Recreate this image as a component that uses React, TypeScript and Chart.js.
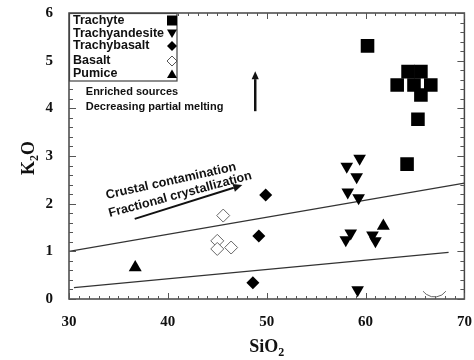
import React, { useEffect, useRef } from "react";
import { Chart, registerables } from "chart.js";

Chart.register(...registerables);

// SiO2 (wt%) vs K2O (wt%) by rock type
const trachyteSiO2 = [60.2, 64.3, 65.6, 63.2, 64.9, 66.6, 65.6, 65.3, 64.2];
const trachyteK2O = [5.31, 4.77, 4.77, 4.49, 4.49, 4.49, 4.28, 3.77, 2.83];

const trachyandesiteSiO2 = [59.4, 58.1, 59.1, 58.2, 59.3, 58.5, 58.0, 60.7, 61.0, 59.2];
const trachyandesiteK2O = [2.95, 2.78, 2.56, 2.24, 2.12, 1.38, 1.24, 1.34, 1.22, 0.19];

const trachybasaltSiO2 = [49.9, 49.2, 48.6];
const trachybasaltK2O = [2.18, 1.32, 0.34];

const basaltSiO2 = [45.6, 45.0, 45.0, 46.4];
const basaltK2O = [1.75, 1.22, 1.05, 1.08];

const pumiceSiO2 = [36.7, 61.8];
const pumiceK2O = [0.66, 1.53];

// Reference trend lines
const upperLineSiO2 = [30, 70];
const upperLineK2O = [1.0, 2.43];
const lowerLineSiO2 = [30.5, 68.4];
const lowerLineK2O = [0.24, 0.98];

const xTicks = [30, 40, 50, 60, 70];
const yTicks = [0, 1, 2, 3, 4, 5, 6];

const legendLabels = ["Trachyte", "Trachyandesite", "Trachybasalt", "Basalt", "Pumice"];

const pts = (xs: number[], ys: number[]) => xs.map((x, i) => ({ x, y: ys[i] }));

const SANS = '"Liberation Sans", Arial, sans-serif';
const SERIF = '"Liberation Serif", "Times New Roman", serif';

type Ctx = CanvasRenderingContext2D;

function drawMarker(ctx: Ctx, kind: string, x: number, y: number, s: number) {
  ctx.save();
  ctx.beginPath();
  ctx.fillStyle = "#000";
  ctx.strokeStyle = "#555";
  ctx.lineWidth = 1;
  if (kind === "square") {
    ctx.rect(x - s / 2, y - s / 2, s, s);
    ctx.fill();
  } else if (kind === "down") {
    ctx.moveTo(x - s / 2, y - s * 0.4);
    ctx.lineTo(x + s / 2, y - s * 0.4);
    ctx.lineTo(x, y + s * 0.45);
    ctx.closePath();
    ctx.fill();
  } else if (kind === "up") {
    ctx.moveTo(x - s / 2, y + s * 0.4);
    ctx.lineTo(x + s / 2, y + s * 0.4);
    ctx.lineTo(x, y - s * 0.45);
    ctx.closePath();
    ctx.fill();
  } else {
    ctx.moveTo(x, y - s / 2);
    ctx.lineTo(x + s / 2, y);
    ctx.lineTo(x, y + s / 2);
    ctx.lineTo(x - s / 2, y);
    ctx.closePath();
    if (kind === "diamond") ctx.fill();
    else {
      ctx.fillStyle = "#fff";
      ctx.fill();
      ctx.stroke();
    }
  }
  ctx.restore();
}

function arrow(ctx: Ctx, x1: number, y1: number, x2: number, y2: number, lw: number, head: number) {
  const a = Math.atan2(y2 - y1, x2 - x1);
  const bx = x2 - Math.cos(a) * head;
  const by = y2 - Math.sin(a) * head;
  ctx.save();
  ctx.strokeStyle = "#111";
  ctx.fillStyle = "#111";
  ctx.lineWidth = lw;
  ctx.beginPath();
  ctx.moveTo(x1, y1);
  ctx.lineTo(bx, by);
  ctx.stroke();
  ctx.beginPath();
  ctx.moveTo(x2, y2);
  ctx.lineTo(bx + Math.sin(a) * head * 0.45, by - Math.cos(a) * head * 0.45);
  ctx.lineTo(bx - Math.sin(a) * head * 0.45, by + Math.cos(a) * head * 0.45);
  ctx.closePath();
  ctx.fill();
  ctx.restore();
}

const decorations = {
  id: "decorations",
  afterDraw(chart: any) {
    const ctx: Ctx = chart.ctx;
    const xs = chart.scales.x;
    const ys = chart.scales.y;
    const { left, right, top, bottom } = chart.chartArea;
    const px = (v: number) => xs.getPixelForValue(v);
    const py = (v: number) => ys.getPixelForValue(v);

    ctx.save();
    // frame
    ctx.strokeStyle = "#444";
    ctx.lineWidth = 1.5;
    ctx.strokeRect(left, top, right - left, bottom - top);

    // inward ticks on all four sides
    ctx.lineWidth = 1;
    ctx.strokeStyle = "#555";
    ctx.beginPath();
    for (let v = 30; v <= 70; v += 1) {
      const x = Math.round(px(v)) + 0.5;
      const len = v % 10 === 0 ? 6 : 3;
      ctx.moveTo(x, bottom);
      ctx.lineTo(x, bottom - len);
      ctx.moveTo(x, top);
      ctx.lineTo(x, top + len);
    }
    for (let i = 0; i <= 30; i++) {
      const v = i * 0.2;
      const y = Math.round(py(v)) + 0.5;
      const len = i % 5 === 0 ? 7 : 4;
      ctx.moveTo(left, y);
      ctx.lineTo(left + len, y);
      ctx.moveTo(right, y);
      ctx.lineTo(right - len, y);
    }
    ctx.stroke();

    // legend box
    const lx = left, ly = top;
    ctx.lineWidth = 1.2;
    ctx.strokeStyle = "#444";
    ctx.fillStyle = "#fff";
    ctx.fillRect(lx, ly, 108, 68);
    ctx.strokeRect(lx + 0.5, ly + 0.5, 107.5, 67.5);
    ctx.fillStyle = "#111";
    ctx.font = `bold 12.5px ${SANS}`;
    ctx.textAlign = "left";
    ctx.textBaseline = "middle";
    const rows = [7.5, 20.5, 33, 48, 61];
    const kinds = ["square", "down", "diamond", "open", "up"];
    legendLabels.forEach((t, i) => {
      ctx.fillStyle = "#111";
      ctx.fillText(t, lx + 4, ly + rows[i]);
      drawMarker(ctx, kinds[i], lx + 103, ly + rows[i], 10);
    });

    // annotations
    ctx.fillStyle = "#111";
    ctx.font = `bold 11px ${SANS}`;
    ctx.textAlign = "left";
    ctx.textBaseline = "middle";
    ctx.fillText("Enriched sources", px(31.7), py(4.34));
    ctx.fillText("Decreasing partial melting", px(31.7), py(4.02));
    arrow(ctx, px(48.84), py(3.94), px(48.84), py(4.78), 2.5, 8);

    ctx.font = `bold 12.6px ${SANS}`;
    ctx.textBaseline = "alphabetic";
    ctx.save();
    ctx.translate(px(33.83), py(2.1));
    ctx.rotate((-12.5 * Math.PI) / 180);
    ctx.fillText("Crustal contamination", 0, 0);
    ctx.restore();
    ctx.save();
    ctx.translate(px(34.13), py(1.72));
    ctx.rotate((-15 * Math.PI) / 180);
    ctx.fillText("Fractional crystallization", 0, 0);
    ctx.restore();
    arrow(ctx, px(36.65), py(1.68), px(47.53), py(2.39), 2, 9);

    // small arc near the lower right corner
    ctx.strokeStyle = "#666";
    ctx.lineWidth = 1;
    ctx.beginPath();
    ctx.arc(px(66.98), py(0.336), 14, 0.2 * Math.PI, 0.8 * Math.PI);
    ctx.stroke();

    // axis titles with subscripts
    ctx.fillStyle = "#111";
    ctx.textBaseline = "alphabetic";
    ctx.textAlign = "left";
    const big = `bold 18px ${SERIF}`;
    const small = `bold 12px ${SERIF}`;
    // SiO2
    ctx.font = big;
    const w1 = ctx.measureText("SiO").width;
    ctx.font = small;
    const w2 = ctx.measureText("2").width;
    const sx = px(50) - (w1 + w2) / 2;
    ctx.font = big;
    ctx.fillText("SiO", sx, 352);
    ctx.font = small;
    ctx.fillText("2", sx + w1, 356);
    // K2O, rotated
    ctx.save();
    ctx.translate(34, (top + bottom) / 2 + 2);
    ctx.rotate(-Math.PI / 2);
    ctx.font = big;
    const k = ctx.measureText("K").width;
    const o = ctx.measureText("O").width;
    ctx.font = small;
    const t2 = ctx.measureText("2").width;
    const start = -(k + t2 + o) / 2;
    ctx.font = big;
    ctx.fillText("K", start, 0);
    ctx.font = small;
    ctx.fillText("2", start + k, 4);
    ctx.font = big;
    ctx.fillText("O", start + k + t2, 0);
    ctx.restore();

    ctx.restore();
  },
};

export default function App() {
  const ref = useRef<HTMLCanvasElement | null>(null);

  useEffect(() => {
    document.body.style.margin = "0";
    const canvas = ref.current;
    if (!canvas) return;
    const chart = new Chart(canvas, {
      type: "scatter",
      data: {
        datasets: [
          {
            label: "Trachyte",
            data: pts(trachyteSiO2, trachyteK2O),
            pointStyle: "rect",
            pointRadius: 9.6,
            backgroundColor: "#000",
            borderColor: "#000",
            borderWidth: 0,
          },
          {
            label: "Trachyandesite",
            data: pts(trachyandesiteSiO2, trachyandesiteK2O),
            pointStyle: "triangle",
            pointRotation: 180,
            pointRadius: 7.3,
            backgroundColor: "#000",
            borderColor: "#000",
            borderWidth: 0,
          },
          {
            label: "Trachybasalt",
            data: pts(trachybasaltSiO2, trachybasaltK2O),
            pointStyle: "rectRot",
            pointRadius: 6.5,
            backgroundColor: "#000",
            borderColor: "#000",
            borderWidth: 0,
          },
          {
            label: "Basalt",
            data: pts(basaltSiO2, basaltK2O),
            pointStyle: "rectRot",
            pointRadius: 6.5,
            backgroundColor: "#fff",
            borderColor: "#666",
            borderWidth: 1,
          },
          {
            label: "Pumice",
            data: pts(pumiceSiO2, pumiceK2O),
            pointStyle: "triangle",
            pointRadius: 7.5,
            backgroundColor: "#000",
            borderColor: "#000",
            borderWidth: 0,
          },
          {
            label: "upper",
            data: pts(upperLineSiO2, upperLineK2O),
            showLine: true,
            pointRadius: 0,
            borderColor: "#333",
            borderWidth: 1.2,
          },
          {
            label: "lower",
            data: pts(lowerLineSiO2, lowerLineK2O),
            showLine: true,
            pointRadius: 0,
            borderColor: "#333",
            borderWidth: 1.2,
          },
        ],
      },
      options: {
        animation: false,
        responsive: false,
        maintainAspectRatio: false,
        events: [],
        layout: { padding: { top: 13, right: 8, left: 0, bottom: 0 } },
        plugins: { legend: { display: false }, tooltip: { enabled: false } },
        scales: {
          x: {
            type: "linear",
            min: 30,
            max: 70,
            afterFit: (s: any) => {
              s.height = 61;
              s.paddingLeft = 0;
              s.paddingRight = 0;
            },
            afterBuildTicks: (s: any) => {
              s.ticks = xTicks.map((v) => ({ value: v }));
            },
            grid: { display: false },
            border: { display: false },
            ticks: {
              autoSkip: false,
              padding: 6,
              color: "#111",
              font: { family: SERIF, size: 15, weight: "bold" },
            },
          },
          y: {
            type: "linear",
            min: 0,
            max: 6,
            afterFit: (s: any) => {
              s.width = 69;
              s.paddingTop = 0;
              s.paddingBottom = 0;
            },
            afterBuildTicks: (s: any) => {
              s.ticks = yTicks.map((v) => ({ value: v }));
            },
            grid: { display: false },
            border: { display: false },
            ticks: {
              autoSkip: false,
              padding: 8,
              color: "#111",
              font: { family: SERIF, size: 15, weight: "bold" },
            },
          },
        },
      },
      plugins: [decorations],
    });
    return () => chart.destroy();
  }, []);

  return (
    <div style={{ position: "fixed", left: 0, top: 0, width: 474, height: 360, background: "#fff" }}>
      <canvas ref={ref} width={474} height={360} style={{ display: "block" }} />
    </div>
  );
}
